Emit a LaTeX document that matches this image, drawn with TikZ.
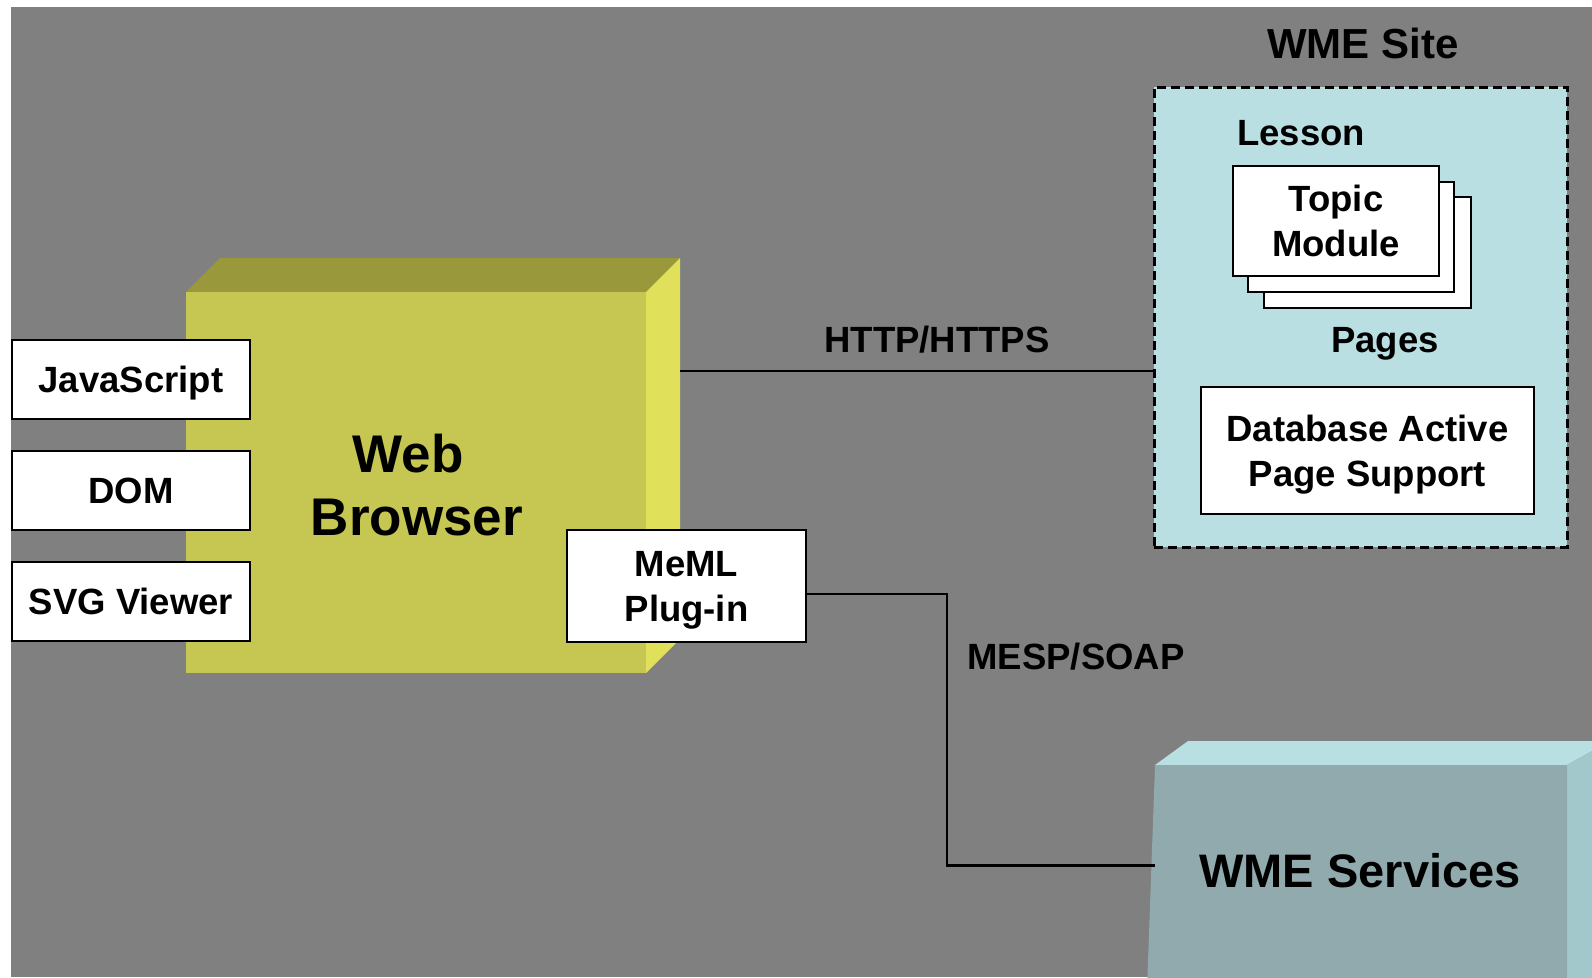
\documentclass[tikz,border=0pt]{standalone}
\usepackage{fontspec}
\setmainfont{Liberation Sans}
\definecolor{bg}{RGB}{128,128,128}
\definecolor{brfront}{RGB}{198,198,82}
\definecolor{brtop}{RGB}{153,153,60}
\definecolor{brside}{RGB}{224,224,90}
\definecolor{siteblue}{RGB}{185,223,226}
\definecolor{svfront}{RGB}{144,170,173}
\definecolor{svtop}{RGB}{184,223,226}
\definecolor{svside}{RGB}{163,200,203}
\begin{document}
\begin{tikzpicture}[x=1pt,y=-1pt,
  box/.style={draw=black, line width=2pt, fill=white, inner sep=0pt, align=center, text depth=0pt,
    font=\fontsize{36.5}{45}\selectfont\bfseries},
  lbl/.style={inner sep=0pt, font=\fontsize{36.5}{45}\selectfont\bfseries},
  conn/.style={draw=black, line width=2.8pt}]
\useasboundingbox (0,0) rectangle (1592,977);
\clip (0,0) rectangle (1592,977);
\fill[white] (0,0) rectangle (1592,977);
\fill[bg] (11,7) rectangle (1592,977);

% Web browser block
\fill[brtop] (186,292) -- (220,258) -- (680,258) -- (646,292) -- cycle;
\fill[brside] (646,292) -- (680,258) -- (680,639) -- (646,673) -- cycle;
\node[fill=brfront, minimum width=460, minimum height=381, inner sep=0pt, anchor=north west] (browser) at (186,292) {};
\node[inner sep=0pt, align=center, font=\fontsize{53}{63}\selectfont\bfseries] (browsertext) at (417,485) {Web\kern18pt\\Browser};

% left boxes
\node[box, minimum width=238, minimum height=79] (js) at (131,379.5) {JavaScript};
\node[box, minimum width=238, minimum height=79] (dom) at (131,490.5) {DOM};
\node[box, minimum width=238, minimum height=79] (svg) at (131,601.5) {SVG Viewer};

% plug-in
\node[box, minimum width=239, minimum height=112] (meml) at (686.5,586) {MeML\\Plug-in};

% WME site
\node[draw=black, line width=2.5pt, dash pattern=on 9pt off 5pt, fill=siteblue,
  minimum width=413, minimum height=460, inner sep=0pt, anchor=north west] (site) at (1153,86) {};
\node[inner sep=0pt, font=\fontsize{42}{50}\selectfont\bfseries] (sitelbl) at (1363,43) {WME Site};
\node[lbl, anchor=west] (lesson) at (1237,133) {Lesson};
\node[box, minimum width=207, minimum height=111] (page3) at (1367.5,252.5) {};
\node[box, minimum width=206, minimum height=110] (page2) at (1351,237) {};
\node[box, minimum width=206, minimum height=110] (topic) at (1336,221) {Topic\\Module};
\node[lbl] (pages) at (1385,344) {Pages};
\node[box, minimum width=333, minimum height=127] (dbap) at (1367.5,450.5) {Database Active\\Page Support};

% WME services block
\fill[svtop] (1155,765) -- (1188,741) -- (1610,741) -- (1567,765) -- cycle;
\fill[svside] (1567,765) -- (1610,741) -- (1610,990) -- (1567,990) -- cycle;
\fill[svfront] (1155,765) -- (1567,765) -- (1567,990) -- (1147,990) -- cycle;
\node[minimum width=412, minimum height=216, inner sep=0pt, anchor=north west] (services) at (1155,765) {};
\node[inner sep=0pt, font=\fontsize{47}{56}\selectfont\bfseries] (servtext) at (1360,871) {WME Services};

% connectors
\coordinate (brR) at (680,371);
\draw[conn] (brR) -- (brR -| site.west);
\node[lbl] (httplbl) at (937,340) {HTTP/HTTPS};

\coordinate (mespx) at (947,700);
\draw[conn] ([yshift=-8pt]meml.east) -- ([yshift=-8pt]meml.east -| mespx) |- ([yshift=8pt]services.west);
\node[lbl] (mesplbl) at (1076,657) {MESP/SOAP};
\end{tikzpicture}
\end{document}
